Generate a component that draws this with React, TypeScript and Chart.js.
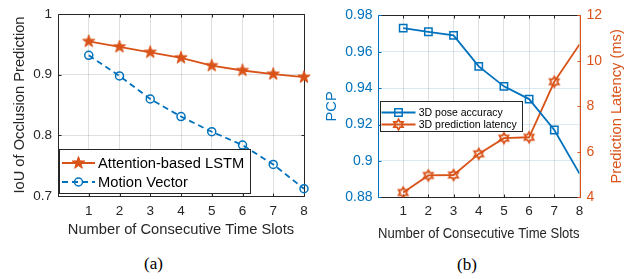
import React, { useEffect, useRef } from "react";
import { Chart, registerables } from "chart.js";

Chart.register(...registerables);

// ---------- data ----------
const timeSlots = [1, 2, 3, 4, 5, 6, 7, 8];
const lstmIoU = [0.955, 0.946, 0.937, 0.928, 0.915, 0.907, 0.901, 0.896];
const motionVectorIoU = [0.932, 0.898, 0.86, 0.831, 0.806, 0.784, 0.752, 0.712];
const pcpValues = [0.973, 0.971, 0.969, 0.952, 0.941, 0.934, 0.917, 0.893];
const latencyValues = [4.21, 4.96, 4.98, 5.91, 6.6, 6.64, 9.08, 10.72];

const xTickValues = [1, 2, 3, 4, 5, 6, 7, 8];
const iouTickValues = [0.7, 0.8, 0.9, 1];
const pcpTickValues = [0.88, 0.9, 0.92, 0.94, 0.96, 0.98];
const latencyTickValues = [4, 6, 8, 10, 12];

const seriesLabelsA = ["Attention-based LSTM", "Motion Vector"];
const seriesLabelsB = ["3D pose accuracy", "3D prediction latency"];
const xTitle = "Number of Consecutive Time Slots";
const yTitleA = "IoU of Occlusion Prediction";
const yTitleB = "PCP";
const y2TitleB = "Prediction Latency (ms)";

// ---------- styles ----------
const BLUE = "#0072BD";
const ORANGE = "#D95319";
const AXIS = "#262626";
const GRID = "rgba(38,38,38,0.15)";
const BLUE_GRID = "rgba(0,114,189,0.15)";
const FONT = "'Liberation Sans', Arial, Helvetica, sans-serif";

function starPath(ctx: CanvasRenderingContext2D, cx: number, cy: number, outer: number, inner: number, n: number) {
  ctx.beginPath();
  for (let i = 0; i < 2 * n; i++) {
    const r = i % 2 === 0 ? outer : inner;
    const a = -Math.PI / 2 + (i * Math.PI) / n;
    const x = cx + r * Math.cos(a);
    const y = cy + r * Math.sin(a);
    if (i === 0) ctx.moveTo(x, y);
    else ctx.lineTo(x, y);
  }
  ctx.closePath();
}

function drawMarker(ctx: CanvasRenderingContext2D, kind: string, x: number, y: number) {
  ctx.save();
  ctx.setLineDash([]);
  if (kind === "pentagram") {
    starPath(ctx, x, y, 6.5, 2.6, 5);
    ctx.fillStyle = ORANGE;
    ctx.fill();
    ctx.strokeStyle = ORANGE;
    ctx.lineWidth = 1;
    ctx.stroke();
  } else if (kind === "hexagram") {
    starPath(ctx, x, y, 5.2, 3.0, 6);
    ctx.strokeStyle = ORANGE;
    ctx.lineWidth = 1.8;
    ctx.lineJoin = "miter";
    ctx.stroke();
  } else if (kind === "circle") {
    ctx.beginPath();
    ctx.arc(x, y, 4, 0, Math.PI * 2);
    ctx.strokeStyle = BLUE;
    ctx.lineWidth = 1.5;
    ctx.stroke();
  } else if (kind === "square") {
    ctx.beginPath();
    ctx.rect(x - 3.7, y - 3.7, 7.4, 7.4);
    ctx.strokeStyle = BLUE;
    ctx.lineWidth = 1.5;
    ctx.stroke();
  }
  ctx.restore();
}

function markerCanvas(kind: string) {
  const c = document.createElement("canvas");
  c.width = 18;
  c.height = 18;
  const ctx = c.getContext("2d")!;
  drawMarker(ctx, kind, 9, 9);
  return c;
}

type LegendRow = { label: string; color: string; dash: number[]; marker: string };

function drawLegend(
  ctx: CanvasRenderingContext2D,
  box: { x: number; y: number; w: number; h: number },
  rows: LegendRow[],
  rowY: number[],
  lineX: [number, number],
  textX: number,
  fontSize: number
) {
  ctx.save();
  ctx.fillStyle = "#ffffff";
  ctx.fillRect(box.x, box.y, box.w, box.h);
  ctx.strokeStyle = AXIS;
  ctx.lineWidth = 1;
  ctx.strokeRect(box.x + 0.5, box.y + 0.5, box.w, box.h);
  rows.forEach((r, i) => {
    const y = rowY[i];
    ctx.save();
    ctx.strokeStyle = r.color;
    ctx.lineWidth = 1.8;
    ctx.setLineDash(r.dash);
    ctx.beginPath();
    ctx.moveTo(lineX[0], y);
    ctx.lineTo(lineX[1], y);
    ctx.stroke();
    ctx.restore();
    drawMarker(ctx, r.marker, (lineX[0] + lineX[1]) / 2, y);
    ctx.fillStyle = "#000000";
    ctx.font = `${fontSize}px ${FONT}`;
    ctx.textAlign = "left";
    ctx.textBaseline = "middle";
    ctx.fillText(r.label, textX, y + 0.5);
  });
  ctx.restore();
}

function px(v: number) {
  return Math.round(v) + 0.5;
}

function drawTicksAndFrame(
  chart: any,
  xKey: string,
  xVals: number[],
  left: { key: string; vals: number[]; color: string },
  right: { key: string; vals: number[]; color: string } | null,
  leftColor: string,
  rightColor: string
) {
  const { ctx, chartArea: a, scales } = chart;
  const L = px(a.left);
  const R = px(a.right);
  const T = px(a.top);
  const B = px(a.bottom);
  const tl = 3;
  ctx.save();
  ctx.lineWidth = 1;
  ctx.setLineDash([]);
  ctx.strokeStyle = AXIS;
  ctx.beginPath();
  for (const v of xVals) {
    const x = px(scales[xKey].getPixelForValue(v));
    ctx.moveTo(x, B);
    ctx.lineTo(x, B - tl);
    ctx.moveTo(x, T);
    ctx.lineTo(x, T + tl);
  }
  ctx.moveTo(L, T);
  ctx.lineTo(R, T);
  ctx.moveTo(L, B);
  ctx.lineTo(R, B);
  ctx.stroke();
  ctx.strokeStyle = left.color;
  ctx.beginPath();
  for (const v of left.vals) {
    const y = px(scales[left.key].getPixelForValue(v));
    ctx.moveTo(L, y);
    ctx.lineTo(L + tl, y);
    if (!right) {
      ctx.moveTo(R, y);
      ctx.lineTo(R - tl, y);
    }
  }
  ctx.stroke();
  if (right) {
    ctx.strokeStyle = right.color;
    ctx.beginPath();
    for (const v of right.vals) {
      const y = px(scales[right.key].getPixelForValue(v));
      ctx.moveTo(R, y);
      ctx.lineTo(R - tl, y);
    }
    ctx.stroke();
  }
  ctx.strokeStyle = leftColor;
  ctx.beginPath();
  ctx.moveTo(L, T);
  ctx.lineTo(L, B);
  ctx.stroke();
  ctx.strokeStyle = rightColor;
  ctx.beginPath();
  ctx.moveTo(R, T);
  ctx.lineTo(R, B);
  ctx.stroke();
  ctx.restore();
}

function ticksFrom(vals: number[]) {
  return (s: any) => {
    s.ticks = vals.map((v) => ({ value: v }));
  };
}

export default function App() {
  const refA = useRef<HTMLCanvasElement>(null);
  const refB = useRef<HTMLCanvasElement>(null);

  useEffect(() => {
    const pentagram = markerCanvas("pentagram");
    const hexagram = markerCanvas("hexagram");

    const legendRowsA: LegendRow[] = [
      { label: seriesLabelsA[0], color: ORANGE, dash: [], marker: "pentagram" },
      { label: seriesLabelsA[1], color: BLUE, dash: [6, 4], marker: "circle" },
    ];
    const legendRowsB: LegendRow[] = [
      { label: seriesLabelsB[0], color: BLUE, dash: [], marker: "square" },
      { label: seriesLabelsB[1], color: ORANGE, dash: [], marker: "hexagram" },
    ];

    const pluginA = {
      id: "decorA",
      beforeDatasetsDraw(chart: any) {
        drawTicksAndFrame(chart, "x", xTickValues, { key: "y", vals: iouTickValues, color: AXIS }, null, AXIS, AXIS);
      },
      afterDraw(chart: any) {
        drawLegend(chart.ctx, { x: 59, y: 149, w: 191, h: 44 }, legendRowsA, [163, 182], [62, 95], 98, 14.7);
      },
    };

    const pluginB = {
      id: "decorB",
      beforeDatasetsDraw(chart: any) {
        drawTicksAndFrame(
          chart,
          "x",
          xTickValues,
          { key: "y", vals: pcpTickValues, color: BLUE },
          { key: "y2", vals: latencyTickValues, color: ORANGE },
          BLUE,
          ORANGE
        );
      },
      afterDraw(chart: any) {
        const { ctx, chartArea: a } = chart;
        drawLegend(ctx, { x: 60, y: 101, w: 142, h: 30 }, legendRowsB, [112.5, 124.5], [61.5, 95.5], 98.7, 10.5);
        ctx.save();
        ctx.translate(297, (a.top + a.bottom) / 2);
        ctx.rotate(-Math.PI / 2);
        ctx.fillStyle = ORANGE;
        ctx.font = `14.7px ${FONT}`;
        ctx.textAlign = "center";
        ctx.textBaseline = "middle";
        ctx.fillText(y2TitleB, 0, 0);
        ctx.restore();
      },
    };

    const tickFont = { family: FONT, size: 13.5 };
    const titleFont = { family: FONT, size: 14.7 };

    const chartA = new Chart(refA.current!, {
      type: "line",
      data: {
        datasets: [
          {
            label: seriesLabelsA[0],
            data: timeSlots.map((x, i) => ({ x, y: lstmIoU[i] })),
            borderColor: ORANGE,
            borderWidth: 1.8,
            pointStyle: pentagram as any,
            pointRadius: 5,
            pointBorderColor: ORANGE,
            pointBackgroundColor: ORANGE,
            tension: 0,
            clip: false as any,
          },
          {
            label: seriesLabelsA[1],
            data: timeSlots.map((x, i) => ({ x, y: motionVectorIoU[i] })),
            borderColor: BLUE,
            borderWidth: 1.8,
            borderDash: [6, 4],
            pointStyle: "circle",
            pointRadius: 4,
            pointBorderWidth: 1.5,
            pointBorderColor: BLUE,
            pointBackgroundColor: "rgba(0,0,0,0)",
            tension: 0,
            clip: false as any,
          },
        ],
      },
      options: {
        responsive: false,
        animation: false,
        devicePixelRatio: 1,
        layout: { padding: { left: 0, right: 16, top: 9, bottom: 0 } },
        plugins: { legend: { display: false }, tooltip: { enabled: false } },
        scales: {
          x: {
            type: "linear",
            min: 0,
            max: 8,
            afterBuildTicks: ticksFrom(xTickValues),
            afterFit: (s: any) => {
              s.height = 49;
            },
            grid: { color: GRID, drawTicks: false },
            border: { display: false },
            ticks: { color: AXIS, font: tickFont, padding: 7, maxRotation: 0, autoSkip: false, callback: (v: any) => String(v) },
            title: { display: true, text: xTitle, color: AXIS, font: titleFont, padding: { top: 0, bottom: 5.9 } },
          },
          y: {
            type: "linear",
            min: 0.7,
            max: 1,
            afterBuildTicks: ticksFrom(iouTickValues),
            afterFit: (s: any) => {
              s.width = 58;
            },
            grid: { color: GRID, drawTicks: false },
            border: { display: false },
            ticks: { color: AXIS, font: tickFont, padding: 6, autoSkip: false, callback: (v: any) => String(v) },
            title: { display: true, text: yTitleA, color: AXIS, font: titleFont, padding: { top: 11.2, bottom: 0 } },
          },
        },
      },
      plugins: [pluginA],
    } as any);

    const chartB = new Chart(refB.current!, {
      type: "line",
      data: {
        datasets: [
          {
            label: seriesLabelsB[0],
            data: timeSlots.map((x, i) => ({ x, y: pcpValues[i] })),
            yAxisID: "y",
            borderColor: BLUE,
            borderWidth: 1.8,
            pointStyle: "rect",
            pointRadius: [5.2, 5.2, 5.2, 5.2, 5.2, 5.2, 5.2, 0],
            pointBorderWidth: 1.5,
            pointBorderColor: BLUE,
            pointBackgroundColor: "rgba(0,0,0,0)",
            tension: 0,
          },
          {
            label: seriesLabelsB[1],
            data: timeSlots.map((x, i) => ({ x, y: latencyValues[i] })),
            yAxisID: "y2",
            borderColor: ORANGE,
            borderWidth: 1.8,
            pointStyle: hexagram as any,
            pointRadius: [5, 5, 5, 5, 5, 5, 5, 0],
            tension: 0,
          },
        ],
      },
      options: {
        responsive: false,
        animation: false,
        devicePixelRatio: 1,
        layout: { padding: { left: 0, right: 0, top: 11, bottom: 0 } },
        plugins: { legend: { display: false }, tooltip: { enabled: false } },
        scales: {
          x: {
            type: "linear",
            min: 0,
            max: 8,
            afterBuildTicks: ticksFrom(xTickValues),
            afterFit: (s: any) => {
              s.height = 47.7;
            },
            grid: { color: GRID, drawTicks: false },
            border: { display: false },
            ticks: { color: AXIS, font: tickFont, padding: 6.3, maxRotation: 0, autoSkip: false, callback: (v: any) => String(v) },
            title: { display: true, text: xTitle, color: AXIS, font: titleFont, padding: { top: 0, bottom: 2.5 } },
          },
          y: {
            type: "linear",
            position: "left",
            min: 0.88,
            max: 0.98,
            afterBuildTicks: ticksFrom(pcpTickValues),
            afterFit: (s: any) => {
              s.width = 58;
            },
            grid: { color: BLUE_GRID, drawTicks: false },
            border: { display: false },
            ticks: { color: BLUE, font: { family: FONT, size: 14 }, padding: 5.5, autoSkip: false, callback: (v: any) => String(v) },
            title: { display: true, text: yTitleB, color: BLUE, font: titleFont, padding: { top: 2.9, bottom: 0 } },
          },
          y2: {
            type: "linear",
            position: "right",
            min: 4,
            max: 12,
            afterBuildTicks: ticksFrom(latencyTickValues),
            afterFit: (s: any) => {
              s.width = 58.5;
            },
            grid: { display: false, drawTicks: false },
            border: { display: false },
            ticks: { color: ORANGE, font: { family: FONT, size: 14 }, padding: 7, autoSkip: false, callback: (v: any) => String(v) },
          },
        },
      },
      plugins: [pluginB],
    } as any);

    return () => {
      chartA.destroy();
      chartB.destroy();
    };
  }, []);

  const captionStyle: React.CSSProperties = {
    position: "absolute",
    transform: "translate(-50%, -50%)",
    font: "17px 'Liberation Serif', 'Times New Roman', serif",
    color: "#000",
    whiteSpace: "nowrap",
    lineHeight: "1",
  };

  return (
    <div style={{ position: "absolute", left: 0, top: 0, width: 638, height: 279, background: "#fff", overflow: "hidden" }}>
      <canvas ref={refA} width={320} height={245} style={{ position: "absolute", left: 0, top: 0, width: 320, height: 245 }} />
      <canvas ref={refB} width={318} height={245} style={{ position: "absolute", left: 320, top: 0, width: 318, height: 245 }} />
      <div style={{ ...captionStyle, left: 153.5, top: 263 }}>(a)</div>
      <div style={{ ...captionStyle, left: 467, top: 264 }}>(b)</div>
    </div>
  );
}
